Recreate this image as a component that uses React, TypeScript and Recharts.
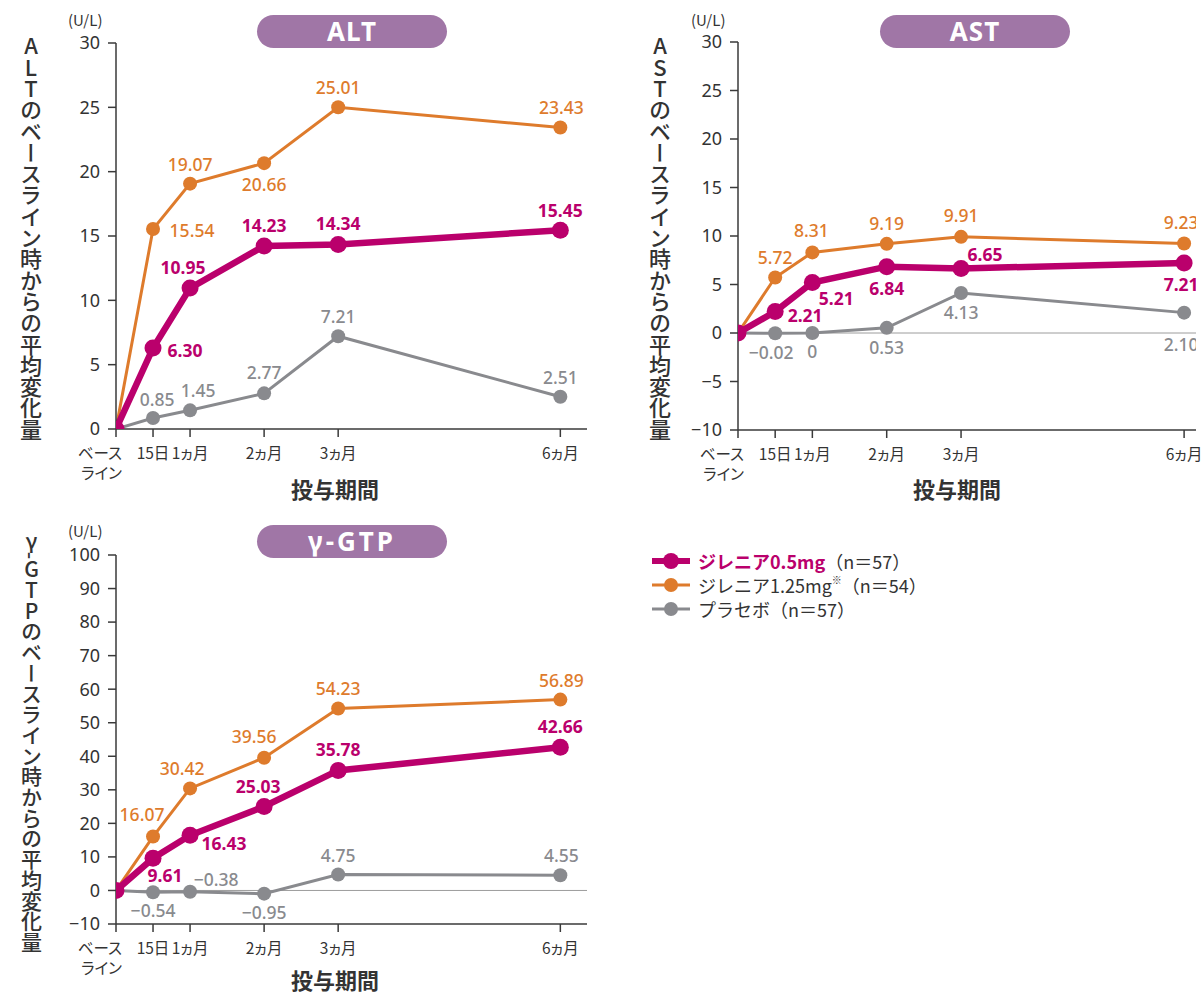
import React from 'react';
import { LineChart, Line, XAxis, YAxis, ReferenceLine } from 'recharts';

// ---- data ----
const xValues = [0, 0.5, 1, 2, 3, 6];
const xTickLabels: string[][] = [['ベース', 'ライン'], ['15日'], ['1ヵ月'], ['2ヵ月'], ['3ヵ月'], ['6ヵ月']];

const altLow = [0, 6.30, 10.95, 14.23, 14.34, 15.45];
const altHigh = [0, 15.54, 19.07, 20.66, 25.01, 23.43];
const altPlacebo = [0, 0.85, 1.45, 2.77, 7.21, 2.51];

const astLow = [0, 2.21, 5.21, 6.84, 6.65, 7.21];
const astHigh = [0, 5.72, 8.31, 9.19, 9.91, 9.23];
const astPlacebo = [0, -0.02, 0, 0.53, 4.13, 2.10];

const gtpLow = [0, 9.61, 16.43, 25.03, 35.78, 42.66];
const gtpHigh = [0, 16.07, 30.42, 39.56, 54.23, 56.89];
const gtpPlacebo = [0, -0.54, -0.38, -0.95, 4.75, 4.55];

const altTicks = [0, 5, 10, 15, 20, 25, 30];
const astTicks = [-10, -5, 0, 5, 10, 15, 20, 25, 30];
const gtpTicks = [-10, 0, 10, 20, 30, 40, 50, 60, 70, 80, 90, 100];

// ---- label placement (offset of label centre from its point, px) ----
type Off = [number, number] | null;
const altLowOff: Off[] = [null, [32, 2], [-7, -21], [0, -21], [0, -21], [0, -20]];
const altHighOff: Off[] = [null, [39, 1], [0, -20], [0, 21], [0, -20], [1, -21]];
const altPlaceboOff: Off[] = [null, [4, -19], [8, -20], [0, -21], [0, -20], [0, -20]];
const astLowOff: Off[] = [null, [30, 3], [24, 16], [0, 21], [24, -14], [-3, 21]];
const astHighOff: Off[] = [null, [0, -21], [-1, -22], [0, -21], [0, -22], [-3, -21]];
const astPlaceboOff: Off[] = [null, [-4, 19], [0, 18], [0, 19], [0, 19], [-3, 31]];
const gtpLowOff: Off[] = [null, [12, 17], [34, 8], [-6, -20], [0, -21], [0, -21]];
const gtpHighOff: Off[] = [null, [-11, -23], [-8, -20], [-10, -22], [0, -21], [1, -20]];
const gtpPlaceboOff: Off[] = [null, [0, 18], [26, -13], [0, 18], [0, -20], [1, -20]];

// ---- styles ----
const MAGENTA = '#BA006C';
const ORANGE = '#DE7B2C';
const GRAY = '#898A8E';
const AXIS = '#3a3a3a';
const TEXT = '#333333';
const PILL = '#A076A6';
const FONT = "'Noto Sans', 'Noto Sans CJK JP', sans-serif";
const JFONT = "'Noto Sans CJK JP', 'Noto Sans', sans-serif";

const fmtLabel = (v: number) => (v === 0 ? '0' : (v < 0 ? '\u2212' : '') + Math.abs(v).toFixed(2));
const fmtTick = (v: number) => (v < 0 ? '\u2212' + Math.abs(v) : String(v));

const makeDot = (values: number[], offs: Off[], color: string, r: number, labelColor: string, weight: number) =>
  (props: any) => {
    const { cx, cy, index } = props;
    const off = offs[index];
    return (
      <g key={`dot-${index}`}>
        <circle cx={cx} cy={cy} r={r} fill={color} />
        {off && (
          <text
            x={cx + off[0]}
            y={cy + off[1]}
            textAnchor="middle"
            dominantBaseline="central"
            fill={labelColor}
            fontSize={17.5}
            fontWeight={weight}
            fontFamily={FONT}
          >
            {fmtLabel(values[index])}
          </text>
        )}
      </g>
    );
  };

const XTick = (props: any) => {
  const { x, y, payload } = props;
  const i = xValues.indexOf(payload.value);
  const lines = xTickLabels[i] || [];
  const first = i === 0;
  const tx = first ? x + 6 : x;
  return (
    <text
      x={tx}
      y={y}
      textAnchor={first ? 'end' : 'middle'}
      fill={TEXT}
      fontSize={15.5}
      fontFamily={JFONT}
      style={{ fontFeatureSettings: "'palt'" }}
    >
      {lines.map((l, k) => (
        <tspan key={k} x={tx} dy={20}>
          {l}
        </tspan>
      ))}
    </text>
  );
};

type PanelProps = {
  low: number[];
  high: number[];
  placebo: number[];
  lowOff: Off[];
  highOff: Off[];
  placeboOff: Off[];
  yTicks: number[];
  yDomain: [number, number];
  xMax: number;
  width: number;
  height: number;
  margin: { top: number; right: number; bottom: number; left: number };
  zeroLine: boolean;
};

function Panel(p: PanelProps) {
  const data = xValues.map((t, i) => ({ t, low: p.low[i], high: p.high[i], placebo: p.placebo[i] }));
  return (
    <LineChart width={p.width} height={p.height} data={data} margin={p.margin}>
      <XAxis
        type="number"
        dataKey="t"
        domain={[0, p.xMax]}
        ticks={xValues}
        allowDataOverflow
        interval={0}
        height={40}
        tickSize={8}
        tick={(tp: any) => <XTick {...tp} />}
        tickLine={{ stroke: AXIS, strokeWidth: 1.5 }}
        axisLine={{ stroke: AXIS, strokeWidth: 1.5 }}
      />
      <YAxis
        type="number"
        domain={p.yDomain}
        ticks={p.yTicks}
        allowDataOverflow
        interval={0}
        width={60}
        tickSize={8}
        tickMargin={8}
        tickFormatter={fmtTick}
        tick={{ fill: TEXT, fontSize: 18, fontFamily: FONT }}
        tickLine={{ stroke: AXIS, strokeWidth: 1.5 }}
        axisLine={{ stroke: AXIS, strokeWidth: 1.5 }}
      />
      {p.zeroLine && <ReferenceLine y={0} stroke="#9c9c9c" strokeWidth={1} />}
      <Line
        dataKey="placebo"
        stroke={GRAY}
        strokeWidth={3}
        isAnimationActive={false}
        activeDot={false}
        dot={makeDot(p.placebo, p.placeboOff, GRAY, 7, GRAY, 500)}
      />
      <Line
        dataKey="high"
        stroke={ORANGE}
        strokeWidth={3}
        isAnimationActive={false}
        activeDot={false}
        dot={makeDot(p.high, p.highOff, ORANGE, 7, ORANGE, 500)}
      />
      <Line
        dataKey="low"
        stroke={MAGENTA}
        strokeWidth={6.5}
        isAnimationActive={false}
        activeDot={false}
        dot={makeDot(p.low, p.lowOff, MAGENTA, 8.5, MAGENTA, 700)}
      />
    </LineChart>
  );
}

const abs = (left: number, top: number, extra: React.CSSProperties = {}): React.CSSProperties => ({
  position: 'absolute',
  left,
  top,
  ...extra,
});

function Pill({ left, top, text, spacing }: { left: number; top: number; text: string; spacing: number }) {
  return (
    <div
      style={abs(left, top, {
        width: 190,
        height: 33,
        borderRadius: 17,
        background: PILL,
        color: '#fff',
        fontFamily: FONT,
        fontWeight: 700,
        fontSize: 26,
        letterSpacing: spacing,
        lineHeight: '33px',
        textAlign: 'center',
      })}
    >
      {text}
    </div>
  );
}

function VTitle({ cx, top, size, spacing, children }: { cx: number; top: number; size: number; spacing: number; children: React.ReactNode }) {
  return (
    <div
      style={abs(cx - size / 2, top, {
        writingMode: 'vertical-rl',
        textOrientation: 'upright',
        fontFamily: JFONT,
        fontWeight: 500,
        fontSize: size,
        letterSpacing: spacing,
        lineHeight: `${size}px`,
        color: TEXT,
        whiteSpace: 'nowrap',
      })}
    >
      {children}
    </div>
  );
}

function CenterText({ cx, cy, size, weight, children }: any) {
  return (
    <div
      style={abs(cx - 100, cy - size / 2, {
        width: 200,
        textAlign: 'center',
        fontFamily: JFONT,
        fontWeight: weight,
        fontSize: size,
        lineHeight: `${size}px`,
        color: TEXT,
        whiteSpace: 'nowrap',
      })}
    >
      {children}
    </div>
  );
}

function LegendRow({ color, lw, r, children }: any) {
  return (
    <div style={{ display: 'flex', alignItems: 'center', height: 24 }}>
      <svg width={40} height={20} style={{ marginRight: 6 }}>
        <line x1={0} y1={10} x2={38} y2={10} stroke={color} strokeWidth={lw} />
        <circle cx={19} cy={10} r={r} fill={color} />
      </svg>
      <span style={{ fontFamily: JFONT, fontSize: 18, color: TEXT, whiteSpace: 'nowrap', lineHeight: '20px' }}>
        {children}
      </span>
    </div>
  );
}

const unitStyle: React.CSSProperties = { fontFamily: JFONT, fontSize: 15, lineHeight: '16px', color: TEXT };

export default function App() {
  return (
    <div style={{ position: 'absolute', left: 0, top: 0, width: 1202, height: 993, background: '#fff' }}>
      {/* ALT */}
      <div style={abs(0, 0)}>
        <Panel
          low={altLow}
          high={altHigh}
          placebo={altPlacebo}
          lowOff={altLowOff}
          highOff={altHighOff}
          placeboOff={altPlaceboOff}
          yTicks={altTicks}
          yDomain={[0, 30]}
          xMax={6.36}
          width={600}
          height={500}
          margin={{ top: 43, right: 13, bottom: 31, left: 56 }}
          zeroLine={false}
        />
      </div>
      {/* AST */}
      <div style={abs(600, 0)}>
        <Panel
          low={astLow}
          high={astHigh}
          placebo={astPlacebo}
          lowOff={astLowOff}
          highOff={astHighOff}
          placeboOff={astPlaceboOff}
          yTicks={astTicks}
          yDomain={[-10, 30]}
          xMax={6.16}
          width={602}
          height={500}
          margin={{ top: 42, right: 6, bottom: 30, left: 78 }}
          zeroLine={true}
        />
      </div>
      {/* GTP */}
      <div style={abs(0, 500)}>
        <Panel
          low={gtpLow}
          high={gtpHigh}
          placebo={gtpPlacebo}
          lowOff={gtpLowOff}
          highOff={gtpHighOff}
          placeboOff={gtpPlaceboOff}
          yTicks={gtpTicks}
          yDomain={[-10, 100]}
          xMax={6.36}
          width={600}
          height={493}
          margin={{ top: 55, right: 13, bottom: 29, left: 56 }}
          zeroLine={true}
        />
      </div>

      {/* titles */}
      <Pill left={257} top={15} text="ALT" spacing={1} />
      <Pill left={880} top={15} text="AST" spacing={1} />
      <Pill left={257} top={525} text="γ-GTP" spacing={3} />

      {/* units */}
      <div style={abs(68, 12, unitStyle)}>(U/L)</div>
      <div style={abs(691, 12, unitStyle)}>(U/L)</div>
      <div style={abs(68, 523, unitStyle)}>(U/L)</div>

      {/* y titles */}
      <VTitle cx={31} top={35} size={22} spacing={-0.7}>ALTのベースライン時からの平均変化量</VTitle>
      <VTitle cx={660} top={35} size={22} spacing={-0.7}>ASTのベースライン時からの平均変化量</VTitle>
      <VTitle cx={31} top={531} size={21} spacing={-0.3}>
        γ<span style={{ textOrientation: 'sideways' }}>-</span>GTPのベースライン時からの平均変化量
      </VTitle>

      {/* x titles */}
      <CenterText cx={335} cy={488} size={22} weight={700}>投与期間</CenterText>
      <CenterText cx={957} cy={488} size={22} weight={700}>投与期間</CenterText>
      <CenterText cx={335} cy={979} size={22} weight={700}>投与期間</CenterText>

      {/* legend */}
      <div style={abs(652, 549)}>
        <LegendRow color={MAGENTA} lw={6} r={8}>
          <span style={{ color: MAGENTA, fontWeight: 700 }}>ジレニア0.5mg</span>（n＝57）
        </LegendRow>
        <LegendRow color={ORANGE} lw={3} r={7}>
          ジレニア1.25mg<span style={{ fontSize: 10, verticalAlign: 'top', lineHeight: '10px' }}>※</span>（n＝54）
        </LegendRow>
        <LegendRow color={GRAY} lw={3} r={7}>
          プラセボ（n＝57）
        </LegendRow>
      </div>
    </div>
  );
}
